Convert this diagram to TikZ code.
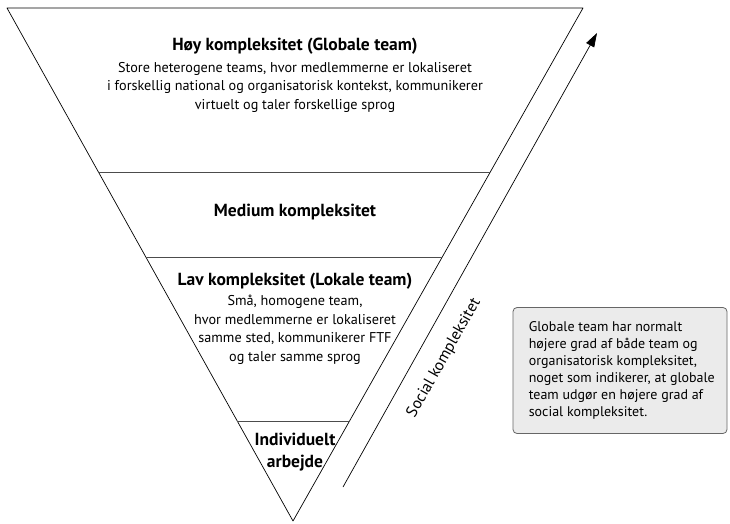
\documentclass[tikz,border=0pt]{standalone}
\usepackage{fontspec}
\setmainfont{PT Sans}
\usetikzlibrary{arrows.meta,calc}
\begin{document}
\begin{tikzpicture}[x=1pt,y=-1pt,
  title/.style={font=\bfseries\fontsize{17.5}{20}\selectfont, inner sep=0pt},
  body/.style={font=\fontsize{14.2}{18.5}\selectfont, align=center, inner sep=0pt},
  divider/.style={draw=black!70, line width=1pt},
  notebox/.style={draw=black!60, fill=black!8, rounded corners=4pt, line width=0.8pt,
    minimum width=214pt, minimum height=126pt},
  notetext/.style={align=left, inner sep=0pt, font=\fontsize{14}{17}\selectfont}]
\useasboundingbox (0,0) rectangle (730,523);
\coordinate (TL) at (7,8);
\coordinate (TR) at (583,8);
\coordinate (B) at (293,521);
\draw[line width=0.7pt, line join=round] (TL) -- (TR) -- (B) -- cycle;
\draw[divider] ($(TL)!0.3197!(B)$) -- ($(TR)!0.3197!(B)$);
\draw[divider] ($(TL)!0.4873!(B)$) -- ($(TR)!0.4873!(B)$);
\draw[divider] ($(TL)!0.8051!(B)$) -- ($(TR)!0.8051!(B)$);
% arrow
\coordinate (arrS) at (343,487);
\coordinate (arrE) at (597,33);
\draw[line width=0.7pt, -{Triangle[length=14pt,width=9pt]}] (arrS) -- (arrE);
\node[font=\fontsize{16}{19}\selectfont, rotate=60.5, inner sep=0pt] (soc) at (444,358) {Social kompleksitet};
% texts
\node[title] (t1) at (295,46) {Høy kompleksitet (Globale team)};
\node[body, anchor=north] (b1) at (295,62) {Store heterogene teams, hvor medlemmerne er lokaliseret\\i forskellig national og organisatorisk kontekst, kommunikerer\\virtuelt og taler forskellige sprog};
\node[title] (t2) at (295,212) {Medium kompleksitet};
\node[title] (t3) at (295,281) {Lav kompleksitet (Lokale team)};
\node[body, anchor=north] (b3) at (295,295) {Små, homogene team,\\hvor medlemmerne er lokaliseret\\samme sted, kommunikerer FTF\\og taler samme sprog};
\node[title, align=center, font=\bfseries\fontsize{17.5}{22}\selectfont] (t4) at (295,452) {Individuelt\\arbejde};
% note box
\node[notebox] (note) at (620,370.5) {};
\node[notetext, anchor=west] (notetxt) at ([xshift=16pt]note.west) {Globale team har normalt\\højere grad af både team og\\organisatorisk kompleksitet,\\noget som indikerer, at globale\\team udgør en højere grad af\\social kompleksitet.};
\end{tikzpicture}
\end{document}
